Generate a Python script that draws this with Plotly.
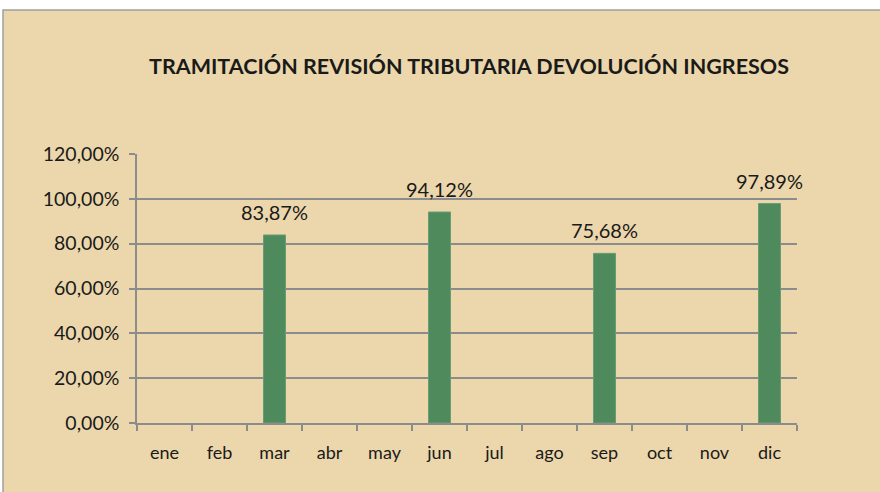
import plotly.graph_objects as go

months = ["ene", "feb", "mar", "abr", "may", "jun", "jul", "ago", "sep", "oct", "nov", "dic"]
values = [None, None, 0.8387, None, None, 0.9412, None, None, 0.7568, None, None, 0.9789]
title_text = "TRAMITACIÓN REVISIÓN TRIBUTARIA DEVOLUCIÓN INGRESOS"
y_ticks = [0, 0.2, 0.4, 0.6, 0.8, 1.0, 1.2]

W, H = 880, 492
ml, mr, mt, mb = 137, 83, 154, 69
pw, ph = W - ml - mr, H - mt - mb

def px_x(x):
    return (x - ml) / pw

def px_y(y):
    return (H - mb - y) / ph

FONT = "Lato"
TXT = "#1a1a1a"

fig = go.Figure()
fig.add_trace(go.Bar(
    x=months, y=values, width=0.4,
    marker=dict(color="#4f8a5d", line=dict(color="#6a9c76", width=1)),
    hoverinfo="x+y",
))

annotations = []
for m, v in zip(months, values):
    if v is not None:
        annotations.append(dict(
            x=m, y=v, xref="x", yref="y", text=f"{v*100:.2f}%".replace(".", ","),
            showarrow=False, yanchor="bottom", yshift=9,
            font=dict(family=FONT, size=20, color=TXT),
        ))

fig.update_layout(
    width=W, height=H,
    margin=dict(l=ml, r=mr, t=mt, b=mb, pad=0),
    paper_bgcolor="white",
    plot_bgcolor="#d9d9d9",
    separators=",.",
    showlegend=False,
    title=dict(text=title_text, x=px_x(469), xref="paper", xanchor="center",
               y=1 - 66 / H, yref="container", yanchor="middle",
               font=dict(family=FONT, size=21.5, color=TXT, weight="bold")),
    annotations=annotations,
    shapes=[dict(type="rect", xref="paper", yref="paper",
                 x0=px_x(3), x1=px_x(885), y0=px_y(500), y1=px_y(10),
                 fillcolor="#ebd7ab", line=dict(color="#a0a0a0", width=1.5),
                 layer="below")],
    xaxis=dict(
        type="category", range=[-0.5, 11.5], tickson="boundaries",
        ticks="outside", ticklen=6, tickcolor="#8c8c8c", tickwidth=1.5,
        showline=True, linecolor="#8c8c8c", linewidth=1.5,
        showgrid=False, ticklabelstandoff=13,
        tickfont=dict(family=FONT, size=18, color=TXT),
    ),
    yaxis=dict(
        range=[0, 1.2], tickvals=y_ticks, tickformat=".2%",
        ticks="outside", ticklen=6, tickcolor="#8c8c8c", tickwidth=1.5,
        showline=True, linecolor="#8c8c8c", linewidth=1.5,
        showgrid=True, gridcolor="#8c8c8c", gridwidth=1.5,
        zeroline=False, ticklabelstandoff=6,
        tickfont=dict(family=FONT, size=19.5, color=TXT),
    ),
)

fig.write_html("out.html", config={"displayModeBar": False},
               post_script="document.body.style.margin='0';")
